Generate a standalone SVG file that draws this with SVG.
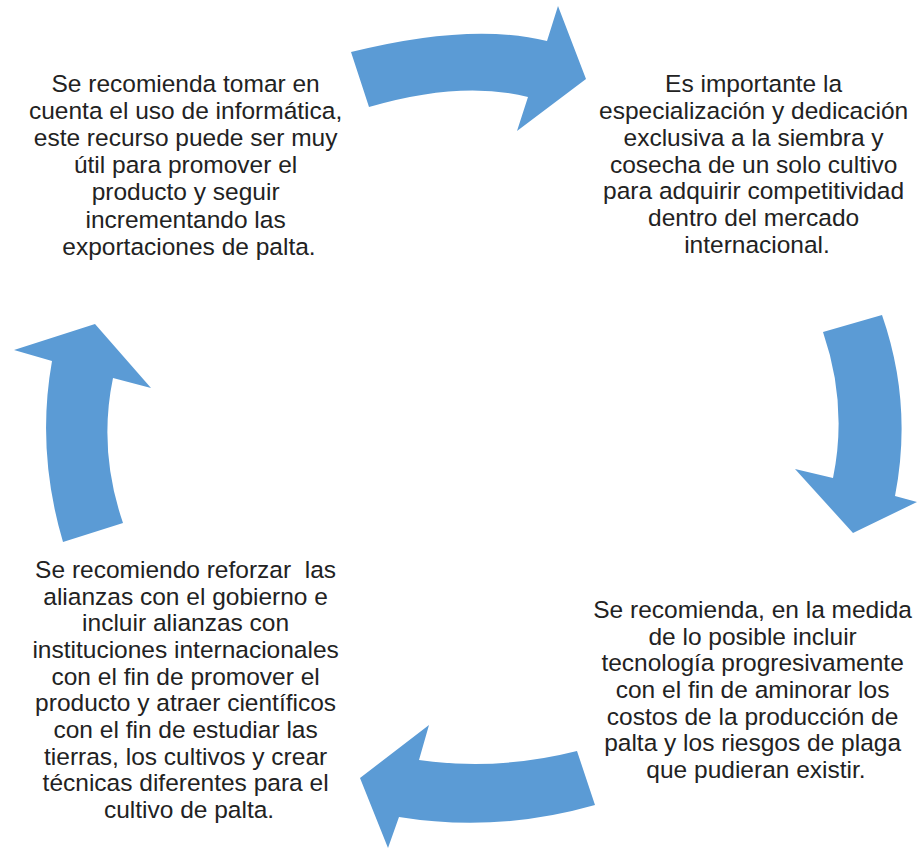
<svg xmlns="http://www.w3.org/2000/svg" width="917" height="849" viewBox="0 0 917 849">
<style>
.arrow{fill:#5B9BD5;stroke:none}
.t{font-family:"Liberation Sans",Arial,sans-serif;font-size:24.5px;fill:#222;text-anchor:middle}
</style>
<rect width="917" height="849" fill="#fff"/>
<g id="connectors">
<path class="arrow" d="M351,52 Q471,22 547,41 L558,6 L586,79 L517,131 L528,97 Q461,80 369,107 Z"/>
<path class="arrow" d="M823,332 L882,315 Q913,404 895,496 L917,502 L853,533 L795,469 L833,478 Q848,405 823,332 Z"/>
<path class="arrow" d="M577,751 Q498,771 419,760 L429,725 L360,778 L388,848 L399,817 Q497,833 595,805 Z"/>
<path class="arrow" d="M63,542 L123,523 Q98,450 113,378 L151,388 L95,324 L14,350 L52,361 Q36,451 63,542 Z"/>
</g>
<g id="node-top-left">
<text class="t">
<tspan x="189" y="92">Se recomienda tomar en</tspan>
<tspan x="189" y="119">cuenta el uso de informática,</tspan>
<tspan x="189" y="146">este recurso puede ser muy</tspan>
<tspan x="189" y="173">útil para promover el</tspan>
<tspan x="189" y="200">producto y seguir</tspan>
<tspan x="189" y="228">incrementando las</tspan>
<tspan x="189" y="255">exportaciones de palta.</tspan>
</text>
</g>
<g id="node-top-right">
<text class="t">
<tspan x="757" y="92">Es importante la</tspan>
<tspan x="757" y="119">especialización y dedicación</tspan>
<tspan x="757" y="146">exclusiva a la siembra y</tspan>
<tspan x="757" y="173">cosecha de un solo cultivo</tspan>
<tspan x="757" y="199">para adquirir competitividad</tspan>
<tspan x="757" y="226">dentro del mercado</tspan>
<tspan x="757" y="253">internacional.</tspan>
</text>
</g>
<g id="node-bottom-right">
<text class="t">
<tspan x="756" y="618">Se recomienda, en la medida</tspan>
<tspan x="756" y="645">de lo posible incluir</tspan>
<tspan x="756" y="671">tecnología progresivamente</tspan>
<tspan x="756" y="698">con el fin de aminorar los</tspan>
<tspan x="756" y="725">costos de la producción de</tspan>
<tspan x="756" y="751">palta y los riesgos de plaga</tspan>
<tspan x="756" y="778">que pudieran existir.</tspan>
</text>
</g>
<g id="node-bottom-left">
<text class="t">
<tspan x="189" y="578">Se recomiendo reforzar&#160; las</tspan>
<tspan x="189" y="605">alianzas con el gobierno e</tspan>
<tspan x="189" y="631">incluir alianzas con</tspan>
<tspan x="189" y="658">instituciones internacionales</tspan>
<tspan x="189" y="685">con el fin de promover el</tspan>
<tspan x="189" y="711">producto y atraer científicos</tspan>
<tspan x="189" y="738">con el fin de estudiar las</tspan>
<tspan x="189" y="765">tierras, los cultivos y crear</tspan>
<tspan x="189" y="791">técnicas diferentes para el</tspan>
<tspan x="189" y="818">cultivo de palta.</tspan>
</text>
</g>
</svg>
